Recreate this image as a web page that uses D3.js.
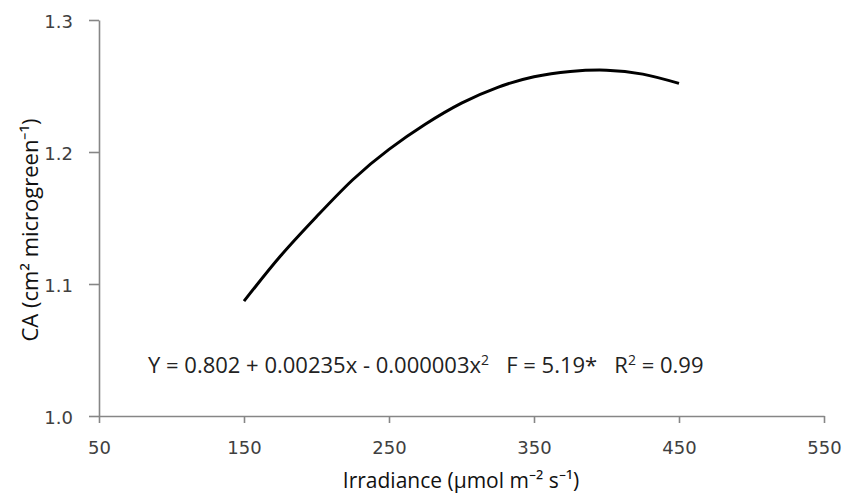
<!DOCTYPE html>
<html>
<head>
<meta charset="utf-8">
<script src="https://cdn.jsdelivr.net/npm/d3@7"></script>
<style>
  body { margin: 0; background: #fff; }
</style>
</head>
<body>
<div id="chart"></div>
<script>
// values
const irradiance = [150, 175, 200, 225, 250, 275, 300, 325, 350, 375, 400, 425, 450];
const ca = [1.087, 1.121, 1.151, 1.179, 1.202, 1.221, 1.237, 1.249, 1.257, 1.261, 1.262, 1.259, 1.252];
const xTicks = [50, 150, 250, 350, 450, 550];
const yTicks = [1.0, 1.1, 1.2, 1.3];

const W = 845, H = 498;
const margin = {top: 20, right: 21, bottom: 82, left: 99};
const width = W - margin.left - margin.right,
  height = H - margin.top - margin.bottom;

const svg = d3.select("#chart")
  .append("svg")
    .attr("width", W)
    .attr("height", H)
  .append("g")
    .attr("transform", `translate(${margin.left},${margin.top})`);

const x = d3.scaleLinear().domain([50, 550]).range([0, width]);
const y = d3.scaleLinear().domain([1.0, 1.3]).range([height, 0]);

const axisColor = "#868686";

// X axis
const gx = svg.append("g")
  .attr("transform", `translate(0, ${height})`)
  .call(d3.axisBottom(x).tickValues(xTicks).tickSize(7).tickSizeOuter(0).tickPadding(18).tickFormat(d3.format("d")));

// Y axis
const gy = svg.append("g")
  .call(d3.axisLeft(y).tickValues(yTicks).tickSize(10).tickSizeOuter(0).tickPadding(16).tickFormat(d3.format(".1f")));

[gx, gy].forEach(g => {
  g.select(".domain").attr("stroke", axisColor).attr("stroke-width", 1.6);
  g.selectAll(".tick line").attr("stroke", axisColor).attr("stroke-width", 1.6);
  g.selectAll(".tick text")
    .attr("fill", "#404040")
    .style("font-family", "'DejaVu Sans', Verdana, sans-serif")
    .style("font-size", "18px");
});
gy.selectAll(".tick text").attr("dy", "0.4em");

// the curve
svg.append("path")
  .datum(irradiance.map((d, i) => ({x: d, y: ca[i]})))
  .attr("fill", "none")
  .attr("stroke", "#000")
  .attr("stroke-width", 3)
  .attr("d", d3.line()
    .x(d => x(d.x))
    .y(d => y(d.y))
    .curve(d3.curveNatural));

// equation
const eq = svg.append("text")
  .attr("x", 49)
  .attr("y", y(1.0326))
  .attr("fill", "#222")
  .attr("xml:space", "preserve")
  .style("white-space", "pre")
  .style("font-family", "'Open Sans', sans-serif")
  .style("font-size", "22px");
eq.append("tspan").text("Y = 0.802 + 0.00235x - 0.000003x");
eq.append("tspan").attr("dy", -8).style("font-size", "14px").text("2");
eq.append("tspan").attr("dy", 8).text("   F = 5.19*   R");
eq.append("tspan").attr("dy", -8).style("font-size", "14px").text("2");
eq.append("tspan").attr("dy", 8).text(" = 0.99");

// axis titles
svg.append("text")
  .attr("transform", "rotate(-90)")
  .attr("x", -210)
  .attr("y", -61)
  .style("text-anchor", "middle")
  .style("font-family", "'Open Sans', sans-serif")
  .style("font-size", "22px")
  .style("font-weight", "500")
  .attr("fill", "#111")
  .text("CA (cm² microgreen⁻¹)");

svg.append("text")
  .attr("x", 461 - margin.left)
  .attr("y", 488 - margin.top)
  .style("text-anchor", "middle")
  .style("font-family", "'Open Sans', sans-serif")
  .style("font-size", "21px")
  .style("font-weight", "500")
  .attr("fill", "#111")
  .text("Irradiance (µmol m⁻² s⁻¹)");
</script>
</body>
</html>
